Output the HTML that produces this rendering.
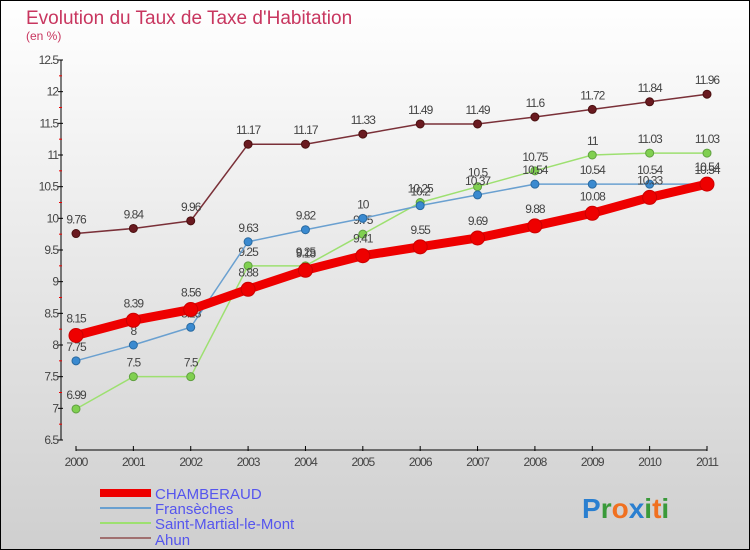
<!DOCTYPE html>
<html><head><meta charset="utf-8"><style>
body{margin:0;width:750px;height:550px;overflow:hidden}
svg{display:block;font-family:"Liberation Sans",sans-serif}
</style></head><body>
<svg id="c" width="750" height="550" xmlns="http://www.w3.org/2000/svg">
<defs><linearGradient id="bg" x1="0" y1="0" x2="0" y2="1"><stop offset="0" stop-color="#ffffff"/><stop offset="1" stop-color="#cfcfcf"/></linearGradient></defs>
<rect x="0.5" y="0.5" width="749" height="549" fill="url(#bg)" stroke="#000"/>
<text x="26" y="24" font-size="19" fill="#c8365f">Evolution du Taux de Taxe d'Habitation</text>
<text x="26" y="40" font-size="12" fill="#c8365f">(en %)</text>
<g id="axes"></g><g id="series"></g>
<g>
<rect x="100" y="489" width="51" height="8" fill="#e00"/>
<rect x="100" y="507" width="51" height="2" fill="#6aa0d0"/>
<rect x="100" y="522" width="51" height="2" fill="#9de070"/>
<rect x="100" y="537" width="51" height="2" fill="#a07070"/>
<text x="155" y="499" font-size="15" fill="#5555ee">CHAMBERAUD</text>
<text x="155" y="514" font-size="15" fill="#5555ee">Fransèches</text>
<text x="155" y="529" font-size="15" fill="#5555ee">Saint-Martial-le-Mont</text>
<text x="155" y="545" font-size="15" fill="#5555ee">Ahun</text>
</g>
<g font-size="28" font-weight="bold"><text x="582" y="518"><tspan fill="#2a7fd0">P</tspan><tspan fill="#3a9a3a">r</tspan><tspan fill="#f07020">o</tspan><tspan fill="#2a7fd0">x</tspan><tspan fill="#3a9a3a">i</tspan><tspan fill="#f07020">t</tspan><tspan fill="#3a9a3a">i</tspan></text></g>
</svg>
<script>
const years=["2000","2001","2002","2003","2004","2005","2006","2007","2008","2009","2010","2011"];
const yTicks=[6.5,7,7.5,8,8.5,9,9.5,10,10.5,11,11.5,12,12.5];
const chamberaud=[8.15,8.39,8.56,8.88,9.18,9.41,9.55,9.69,9.88,10.08,10.33,10.54];
const fransechhes=[7.75,8,8.28,9.63,9.82,10,10.2,10.37,10.54,10.54,10.54,10.54];
const saintMartial=[6.99,7.5,7.5,9.25,9.25,9.75,10.25,10.5,10.75,11,11.03,11.03];
const ahun=[9.76,9.84,9.96,11.17,11.17,11.33,11.49,11.49,11.6,11.72,11.84,11.96];
const NS="http://www.w3.org/2000/svg";
const X=i=>76+i*(707-76)/11, Y=v=>440-(v-6.5)*(380/6);
function mk(t,a,p){const e=document.createElementNS(NS,t);for(const k in a)e.setAttribute(k,a[k]);p.appendChild(e);return e;}
const ax=document.getElementById('axes');
let e=mk('line',{x1:61,y1:60,x2:61,y2:440,stroke:'#000'},ax);

e=mk('line',{x1:76,y1:450,x2:707,y2:450,stroke:'#000'},ax);

yTicks.forEach((v,i)=>{
  mk('line',{x1:58,y1:Y(v),x2:63,y2:Y(v),stroke:'#000'},ax);
  if(i<yTicks.length-1)mk('line',{x1:59,y1:Y(v+0.25),x2:62,y2:Y(v+0.25),stroke:'#e00'},ax);
  const t=mk('text',{x:58,y:Y(v)+4,'font-size':12,fill:'#444','text-anchor':'end','letter-spacing':'-1'},ax);
  t.textContent=String(v);
  
});
years.forEach((y,i)=>{
  mk('line',{x1:X(i),y1:446,x2:X(i),y2:451,stroke:'#000'},ax);
  const t=mk('text',{x:X(i),y:466,'font-size':12,fill:'#444','text-anchor':'middle','letter-spacing':'-1'},ax);
  t.textContent=y;
  
});
const sg=document.getElementById('series');
function draw(vals,name,col,mcol,stroke,w,r){
  const g=mk('g',{},sg);
  
  const l=mk('polyline',{points:vals.map((v,i)=>X(i)+','+Y(v)).join(' '),fill:'none',stroke:col,'stroke-width':w,'stroke-linejoin':'round'},g);
  
  vals.forEach((v,i)=>{
    const c=mk('circle',{cx:X(i),cy:Y(v),r:r,fill:mcol,stroke:stroke,'stroke-width':1},g);
    
    const t=mk('text',{x:X(i),y:Y(v)-r-6,'font-size':12,fill:'#444','text-anchor':'middle','letter-spacing':'-1'},g);
    t.textContent=String(v);
    
  });
}
draw(ahun,'ahun','#7a3038','#6a1a20','#4a1010',1.5,4);
draw(saintMartial,'saint-martial','#9de070','#80d050','#60a040',1.5,4);
draw(fransechhes,'fransechhes','#6aa0d0','#3a8ad0','#2a6aa0',1.5,4);
draw(chamberaud,'chamberaud','#ee0000','#ee0000','#cc0000',9,7);
</script>
</body></html>
